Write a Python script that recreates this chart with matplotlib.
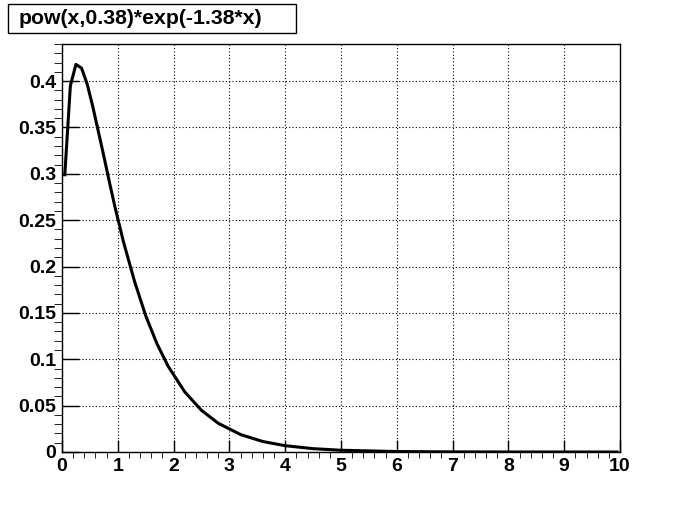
#!/usr/bin/env python3
"""
Recreates the ROOT style plot of pow(x,0.38)*exp(-1.38*x)
"""

import matplotlib
matplotlib.use('Agg')
import matplotlib.pyplot as plt
from matplotlib.ticker import MultipleLocator

# values
x_vals = [0.05, 0.15, 0.25, 0.35, 0.45, 0.55, 0.65, 0.75, 0.85, 0.95,
          1.1, 1.3, 1.5, 1.7, 1.9, 2.2, 2.5, 2.8, 3.2, 3.6,
          4.0, 4.5, 5.0, 6.0, 7.0, 8.0, 9.0, 9.95]
y_vals = [0.299, 0.395, 0.418, 0.414, 0.397, 0.373, 0.346, 0.319, 0.291, 0.264,
          0.227, 0.184, 0.147, 0.117, 0.0927, 0.0648, 0.0449, 0.0310, 0.0188, 0.0113,
          0.0068, 0.0036, 0.0019, 0.0005, 0.00013, 0.00003, 0.00001, 0.0]
title = 'pow(x,0.38)*exp(-1.38*x)'

plt.rcParams['font.family'] = ['Liberation Sans', 'DejaVu Sans']
plt.rcParams['font.weight'] = 'bold'

W, H = 700, 512
fig = plt.figure(figsize=(W / 100, H / 100), dpi=100)
ax = fig.add_axes([62 / W, (H - 452) / H, 558 / W, 408 / H])

ax.plot(x_vals, y_vals, color='black', lw=2.2, solid_joinstyle='round')

ax.set_xlim(0, 10)
ax.set_ylim(0, 0.44)
ax.xaxis.set_major_locator(MultipleLocator(1))
ax.xaxis.set_minor_locator(MultipleLocator(0.2))
ax.yaxis.set_major_locator(MultipleLocator(0.05))
ax.yaxis.set_minor_locator(MultipleLocator(0.01))
ax.set_xticklabels([f'{v:g}' for v in ax.get_xticks()])
ax.set_yticklabels([f'{v:g}' for v in ax.get_yticks()])

ax.tick_params(axis='both', direction='in', labelsize=14, color='black', width=1)
ax.tick_params(axis='x', which='major', length=8.6, pad=4.5)
ax.tick_params(axis='x', which='minor', length=4.3)
ax.tick_params(axis='y', which='major', length=12, pad=4)
ax.tick_params(axis='y', which='minor', length=6)
for lab in ax.get_xticklabels() + ax.get_yticklabels():
    lab.set_fontweight('bold')

ax.grid(True, which='major', linestyle=(0, (1, 2)), color='black', lw=0.8)
for s in ax.spines.values():
    s.set_linewidth(1)

fig.text(19 / W, 1 - 18 / H, title, fontsize=15.3, fontweight='bold', va='center', ha='left')
box = plt.Rectangle((8 / W, 1 - 33 / H), 288 / W, 29 / H, transform=fig.transFigure,
                    fill=False, edgecolor='black', lw=1)
fig.add_artist(box)

fig.savefig('out.png', dpi=100)
